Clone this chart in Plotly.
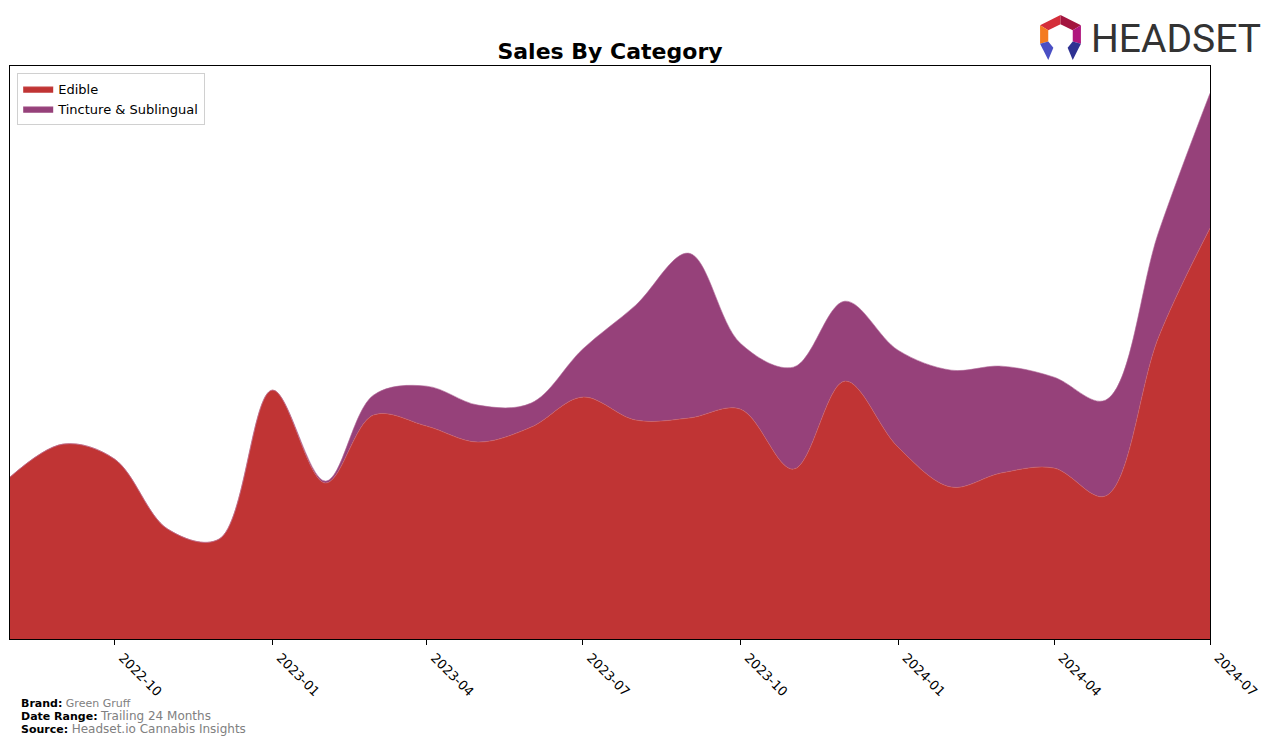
import base64
import plotly.graph_objects as go

months = ["2022-08-01", "2022-09-01", "2022-10-01", "2022-11-01", "2022-12-01",
          "2023-01-01", "2023-02-01", "2023-03-01", "2023-04-01", "2023-05-01",
          "2023-06-01", "2023-07-01", "2023-08-01", "2023-09-01", "2023-10-01",
          "2023-11-01", "2023-12-01", "2024-01-01", "2024-02-01", "2024-03-01",
          "2024-04-01", "2024-05-01", "2024-06-01", "2024-07-01"]

edible = [162, 195, 180, 110, 100, 249, 156, 224, 213, 197, 212, 242,
          219, 221, 230, 170, 258, 192, 152, 166, 171, 143, 302, 411]

tincture = [0, 0, 0, 0, 0, 0, 2, 20, 40, 37, 24, 48,
            115, 165, 66, 102, 80, 97, 117, 107, 91, 96, 105, 135]

tick_vals = ["2022-10-01", "2023-01-01", "2023-04-01", "2023-07-01",
             "2023-10-01", "2024-01-01", "2024-04-01", "2024-07-01"]
tick_text = ["2022-10", "2023-01", "2023-04", "2023-07",
             "2023-10", "2024-01", "2024-04", "2024-07"]

series = [("Edible", edible, "#C03434", "#d06060"),
          ("Tincture & Sublingual", tincture, "#96417A", "#b06a98")]

fig = go.Figure()
for name, vals, color, edge in series:
    fig.add_trace(go.Scatter(
        x=months, y=vals, name=name, mode="lines",
        stackgroup="one", fillcolor=color,
        line=dict(shape="spline", smoothing=1.0, width=0.6, color=edge),
        hoverinfo="x+y+name",
    ))

total_max = max(a + b for a, b in zip(edible, tincture))

fig.update_layout(
    width=1276, height=745,
    margin=dict(l=10, r=66, t=66, b=106),
    paper_bgcolor="white", plot_bgcolor="white",
    font=dict(family="DejaVu Sans", color="black", size=13),
    title=dict(text="<b>Sales By Category</b>", x=610 / 1276, xanchor="center",
               y=1 - 51 / 745, yanchor="middle",
               font=dict(size=22, family="DejaVu Sans", color="black")),
    showlegend=True,
    legend=dict(x=0.006, y=0.988, xanchor="left", yanchor="top",
                traceorder="normal",
                bgcolor="white", bordercolor="#d0d0d0", borderwidth=1,
                font=dict(size=13), tracegroupgap=0, itemwidth=30),
    xaxis=dict(range=[months[0], months[-1]], tickvals=tick_vals, ticktext=tick_text,
               tickangle=45, ticks="outside", ticklen=5, tickcolor="black",
               ticklabelshift=8,
               showline=True, linecolor="black", linewidth=1, mirror=True,
               showgrid=False, zeroline=False, tickfont=dict(size=13)),
    yaxis=dict(range=[0, total_max * 1.05], showticklabels=False, ticks="",
               showline=True, linecolor="black", linewidth=1, mirror=True,
               showgrid=False, zeroline=False),
)

# footer notes
notes = [
    ("Brand:", "Green Gruff", 11, 703),
    ("Date Range:", "Trailing 24 Months", 12, 716),
    ("Source:", "Headset.io Cannabis Insights", 12, 729),
]
for label, value, vsize, py in notes:
    fig.add_annotation(
        xref="paper", yref="paper", x=(19 - 10) / 1200, y=(639 - py) / 573,
        xanchor="left", yanchor="middle", showarrow=False,
        text=f"<b>{label}</b> <span style='color:#808080;font-size:{vsize}px'>{value}</span>",
        font=dict(size=11, family="DejaVu Sans", color="black"),
    )

# logo
svg = """<svg xmlns='http://www.w3.org/2000/svg' viewBox='0 0 48 48' width='48' height='48'>
<polygon points='4,12 24,2 24,11 12,17' fill='#D42E3A'/>
<polygon points='24,2 44,12 36,17 24,11' fill='#A3153F'/>
<polygon points='4,12 12,17 12,28 4,30' fill='#F47B20'/>
<polygon points='44,12 44,30 36,28 36,17' fill='#B0177E'/>
<polygon points='4,30 12,28 17,34 12,46' fill='#4A4FC4'/>
<polygon points='44,30 36,28 31,34 36,46' fill='#2E3192'/>
</svg>"""
src = "data:image/svg+xml;base64," + base64.b64encode(svg.encode()).decode()
fig.add_layout_image(dict(source=src, xref="paper", yref="paper",
                          x=(1036 - 10) / 1200, y=(639 - 13) / 573,
                          sizex=49 / 1200, sizey=49 / 573,
                          xanchor="left", yanchor="top", sizing="stretch", layer="above"))
fig.add_annotation(xref="paper", yref="paper", x=(1089 - 10) / 1200, y=(639 - 39) / 573,
                   xanchor="left", yanchor="middle", showarrow=False,
                   text="HEADSET",
                   font=dict(size=39, family="Roboto, sans-serif", color="#333333"))

fig.write_html("out.html")
